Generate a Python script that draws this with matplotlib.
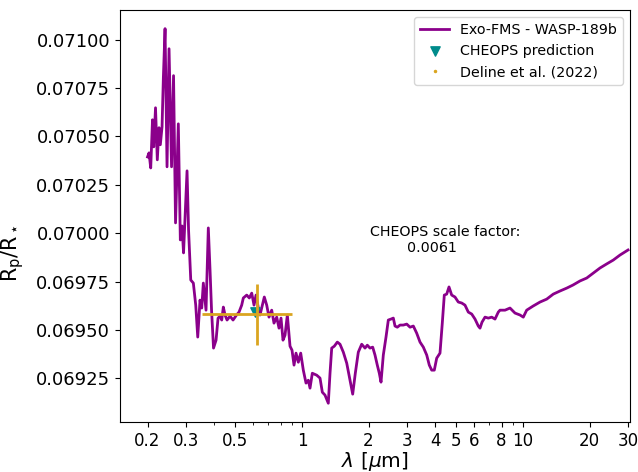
import numpy as np
import matplotlib
matplotlib.use("Agg")
import matplotlib.pyplot as plt
from matplotlib.lines import Line2D
from matplotlib.ticker import FixedLocator, FixedFormatter, NullFormatter, MultipleLocator, FormatStrFormatter

# Exo-FMS transmission spectrum of WASP-189b
wavelength = [
    0.200, 0.2031, 0.2067, 0.2106, 0.2133, 0.2173, 0.2214, 0.2254, 0.2285, 0.2326,
    0.2358, 0.2400, 0.2450, 0.2502, 0.2568, 0.2622, 0.2677, 0.2756, 0.2814, 0.2864,
    0.2910, 0.3018, 0.3066, 0.3137, 0.3223, 0.3304, 0.3374, 0.3455, 0.3517, 0.3576,
    0.3678, 0.3767, 0.3835, 0.3896, 0.3977, 0.4083, 0.4169, 0.4256, 0.4332, 0.4405,
    0.4484, 0.4579, 0.4724, 0.4874, 0.5054, 0.5187, 0.5334, 0.5425, 0.5621, 0.5774,
    0.5921, 0.6065, 0.6193, 0.6343, 0.6456, 0.6612, 0.6751, 0.6922, 0.7090, 0.7292,
    0.7468, 0.7682, 0.7869, 0.8035, 0.8203, 0.8377, 0.8582, 0.8825, 0.9011, 0.9201,
    0.9394, 0.9622, 0.9865, 1.0136, 1.0426, 1.0678, 1.0869, 1.1133, 1.1653, 1.2063,
    1.2357, 1.2708, 1.3151, 1.3387, 1.3627, 1.4002, 1.4445, 1.4857, 1.5379, 1.5935,
    1.6487, 1.6957, 1.7424, 1.7978, 1.8624, 1.9277, 1.9745, 2.0306, 2.0885, 2.1393,
    2.1911, 2.2375, 2.2776, 2.3328, 2.3993, 2.4577, 2.5277, 2.5890, 2.6354, 2.6993,
    2.7763, 2.8737, 2.9773, 3.0818, 3.1893, 3.3037, 3.4198, 3.5396, 3.6672, 3.7670,
    3.8625, 3.9682, 4.0690, 4.2110, 4.3130, 4.4040, 4.5157, 4.6252, 4.7568, 4.9229,
    5.0952, 5.2792, 5.4645, 5.6553, 5.8597, 6.0648, 6.2765, 6.3889, 6.5240, 6.7312,
    6.9663, 7.2178, 7.4699, 7.7306, 7.8690, 8.2900, 8.7338, 9.2010, 9.6920, 10.03,
    10.39, 11.10, 11.94, 12.80, 13.71, 14.70, 15.77, 16.84, 18.11, 19.42,
    20.80, 22.31, 23.92, 25.62, 27.48, 29.87,
]
radius_ratio = [
    0.070394, 0.070415, 0.070337, 0.070586, 0.070446, 0.070648, 0.070379, 0.070545, 0.070457, 0.070550,
    0.070803, 0.071057, 0.070343, 0.070953, 0.070343, 0.070814, 0.070053, 0.070565, 0.069965, 0.070037,
    0.069898, 0.070322, 0.070017, 0.069758, 0.069742, 0.069628, 0.069463, 0.069654, 0.069613, 0.069742,
    0.069602, 0.070027, 0.069810, 0.069602, 0.069406, 0.069447, 0.069561, 0.069571, 0.069551, 0.069618,
    0.069577, 0.069551, 0.069571, 0.069551, 0.069577, 0.069592, 0.069628, 0.069665, 0.069680, 0.069665,
    0.069690, 0.069628, 0.069680, 0.069613, 0.069577, 0.069628, 0.069670, 0.069628, 0.069566, 0.069602,
    0.069535, 0.069566, 0.069509, 0.069561, 0.069447, 0.069473, 0.069577, 0.069416, 0.069395, 0.069318,
    0.069380, 0.069333, 0.069380, 0.069292, 0.069225, 0.069240, 0.069199, 0.069276, 0.069266, 0.069251,
    0.069178, 0.069163, 0.069121, 0.069276, 0.069406, 0.069416, 0.069437, 0.069426, 0.069385, 0.069328,
    0.069240, 0.069168, 0.069276, 0.069385, 0.069426, 0.069406, 0.069421, 0.069406, 0.069411, 0.069370,
    0.069318, 0.069276, 0.069230, 0.069370, 0.069463, 0.069551, 0.069556, 0.069561, 0.069520, 0.069514,
    0.069525, 0.069525, 0.069530, 0.069514, 0.069520, 0.069483, 0.069437, 0.069411, 0.069370, 0.069318,
    0.069292, 0.069292, 0.069354, 0.069380, 0.069535, 0.069680, 0.069685, 0.069722, 0.069680, 0.069670,
    0.069644, 0.069639, 0.069628, 0.069592, 0.069582, 0.069556, 0.069520, 0.069509, 0.069540, 0.069566,
    0.069561, 0.069566, 0.069556, 0.069592, 0.069602, 0.069602, 0.069613, 0.069587, 0.069577, 0.069566,
    0.069602, 0.069623, 0.069644, 0.069659, 0.069685, 0.069701, 0.069716, 0.069732, 0.069753, 0.069768,
    0.069794, 0.069820, 0.069841, 0.069861, 0.069887, 0.069913,
]

# CHEOPS band prediction and measured value
cheops_wl = 0.613
cheops_pred = 0.069594
deline_wl = 0.625
deline_wl_err = 0.273
deline_val = 0.069580
deline_err = 0.000158
scale_factor = 0.0061

xtick_vals = [0.2, 0.3, 0.5, 1, 2, 3, 4, 5, 6, 8, 10, 20, 30]
xtick_labels = ['0.2', '0.3', '0.5', '1', '2', '3', '4', '5', '6', '8', '10', '20', '30']

purple = '#8b008b'
teal = '#008b8b'
gold = '#daa520'

fig = plt.figure(figsize=(6.38, 4.72), dpi=100)
ax = fig.add_axes([0.188, 0.106, 0.7995, 0.873])

ax.plot(wavelength, radius_ratio, color=purple, lw=2, label='Exo-FMS - WASP-189b')
ax.scatter([cheops_wl], [cheops_pred], marker='v', color=teal, s=45, zorder=3,
           label='CHEOPS prediction')
ax.errorbar([deline_wl], [deline_val], xerr=[deline_wl_err], yerr=[deline_err],
            fmt='.', ms=2, color=gold, lw=2, zorder=4)

ax.set_xscale('log')
ax.set_xlim(0.15, 30.5)
ax.xaxis.set_major_locator(FixedLocator(xtick_vals))
ax.xaxis.set_major_formatter(FixedFormatter(xtick_labels))
ax.xaxis.set_minor_formatter(NullFormatter())
ax.yaxis.set_major_locator(MultipleLocator(0.00025))
ax.yaxis.set_major_formatter(FormatStrFormatter('%.5f'))
ax.tick_params(axis='x', which='major', labelsize=12)
ax.tick_params(axis='y', which='major', labelsize=13)

ax.set_xlabel(r'$\lambda$ [$\mu$m]', fontsize=14.5, labelpad=0)
ax.set_ylabel(r'R$_\mathrm{p}$/R$_\star$', fontsize=15)
# the reference label sits a little below the axis centre
ax.yaxis.set_label_coords(-0.185, 0.41)

# second line padded so it sits slightly left of the first, as in the reference
ax.text(4.44, 0.069965, 'CHEOPS scale factor:\n' + f'{scale_factor:.4f}' + '      ',
        ha='center', va='center', fontsize=10.3)

handles, labels = ax.get_legend_handles_labels()
handles.append(Line2D([], [], marker='.', ls='', color=gold, ms=3))
labels.append('Deline et al. (2022)')
ax.legend(handles, labels, loc='upper right', fontsize=10.3)

fig.savefig('out.png', dpi=100)
